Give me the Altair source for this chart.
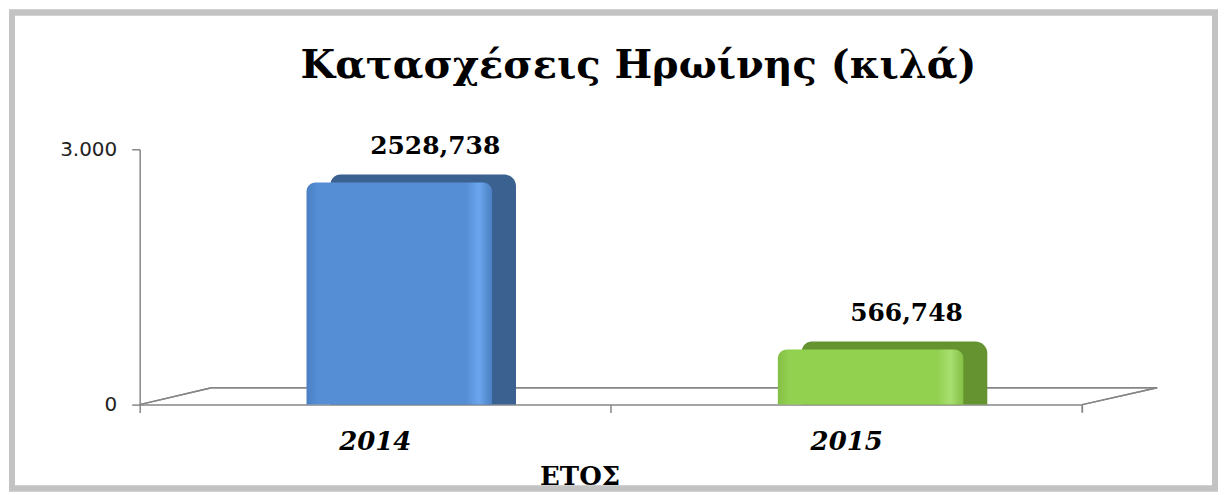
import altair as alt
import pandas as pd

years = ["2014", "2015"]
values = [2528.738, 566.748]
front_colors = ["#558ed5", "#92d050"]
highlight_colors = ["#6ca6ee", "#a8e070"]
edge_colors = ["#4a7fc2", "#84bf45"]
side_colors = ["#3b6191", "#64932f"]
chart_title = "Κατασχέσεις Ηρωίνης (κιλά)"
x_title = "ΕΤΟΣ"

df = pd.DataFrame({"year": years, "value": values})

W, H = 945, 256
AXC = "#868686"

x_enc = alt.X(
    "year:N",
    sort=years,
    scale=alt.Scale(paddingInner=0, paddingOuter=0),
    axis=alt.Axis(
        title=x_title,
        labelAngle=0,
        labelFont="DejaVu Serif",
        labelFontWeight="bold",
        labelFontStyle="italic",
        labelFontSize=26,
        labelColor="#000000",
        labelPadding=16,
        titleFont="DejaVu Serif",
        titleFontWeight="bold",
        titleFontSize=26,
        titleColor="#000000",
        titleX=441,
        titleY=80,
        titleAlign="center",
        titleBaseline="alphabetic",
        domainColor=AXC,
        domainWidth=1.5,
        tickColor=AXC,
        tickWidth=1.5,
        tickSize=8,
        bandPosition=0,
    ),
)

y_enc = alt.Y(
    "value:Q",
    scale=alt.Scale(domain=[0, 3000], nice=False),
    axis=alt.Axis(
        title=None,
        values=[0, 3000],
        grid=False,
        labelExpr="replace(format(datum.value, ','), ',', '.')",
        labelFont="DejaVu Sans",
        labelFontSize=20,
        labelColor="#222222",
        labelPadding=15,
        domainColor=AXC,
        domainWidth=1.5,
        tickColor=AXC,
        tickWidth=1.5,
        tickSize=8,
    ),
)

base = alt.Chart(df)

frame = base.mark_rect(fillOpacity=0, stroke="#c3c3c3", strokeWidth=6).encode(
    x=alt.value(-128), x2=alt.value(1078), y=alt.value(-137), y2=alt.value(340)
)

floor_back = base.mark_rule(color=AXC, strokeWidth=1.5).encode(
    x=alt.value(72), x2=alt.value(1020), y=alt.value(239)
)
floor_left = base.mark_rule(color=AXC, strokeWidth=1.5).encode(
    x=alt.value(0), x2=alt.value(72), y=alt.value(256), y2=alt.value(239)
)
floor_right = base.mark_rule(color=AXC, strokeWidth=1.5).encode(
    x=alt.value(945), x2=alt.value(1020), y=alt.value(256), y2=alt.value(239)
)
right_tick = base.mark_rule(color=AXC, strokeWidth=1.5).encode(
    x=alt.value(945), y=alt.value(256), y2=alt.value(264)
)

bar_layers = []
for i, yr in enumerate(years):
    sub = base.transform_filter(alt.datum.year == yr)
    side = sub.mark_bar(
        width=186, xOffset=48, yOffset=-15,
        cornerRadiusTopLeft=10, cornerRadiusTopRight=12,
        color=side_colors[i],
    ).encode(x=x_enc, y=y_enc, y2=alt.datum(0))
    grad = alt.Gradient(
        gradient="linear",
        x1=0, y1=0, x2=1, y2=0,
        stops=[
            alt.GradientStop(color=edge_colors[i], offset=0),
            alt.GradientStop(color=front_colors[i], offset=0.06),
            alt.GradientStop(color=front_colors[i], offset=0.86),
            alt.GradientStop(color=highlight_colors[i], offset=0.93),
            alt.GradientStop(color=edge_colors[i], offset=1),
        ],
    )
    front = sub.mark_bar(
        width=186, xOffset=24, yOffset=-7,
        cornerRadiusTopLeft=9, cornerRadiusTopRight=9,
        color=grad,
    ).encode(x=x_enc, y=y_enc, y2=alt.datum(0))
    bar_layers += [side, front]

labels = base.transform_calculate(
    label="replace(format(datum.value, '.3f'), '.', ',')"
).mark_text(
    dx=60, dy=-35, baseline="alphabetic", align="center",
    font="DejaVu Serif", fontWeight="bold", fontSize=25, color="#000000"
).encode(x=x_enc, y=y_enc, text="label:N")

title_mark = alt.Chart(pd.DataFrame({"t": [chart_title]})).mark_text(
    font="DejaVu Serif", fontWeight="bold", fontSize=40, color="#000000",
    align="center", baseline="alphabetic",
).encode(x=alt.value(500), y=alt.value(-71), text="t:N")

chart = alt.layer(
    frame, floor_back, floor_left, floor_right, right_tick, *bar_layers, labels, title_mark
).properties(
    width=W,
    height=H,
    padding={"left": 132, "top": 141, "right": 137, "bottom": 88},
    autosize=alt.AutoSizeParams(type="none"),
    background="white",
).configure_view(stroke=None)

chart.save("out.html", embed_options={"renderer": "svg", "actions": False})
